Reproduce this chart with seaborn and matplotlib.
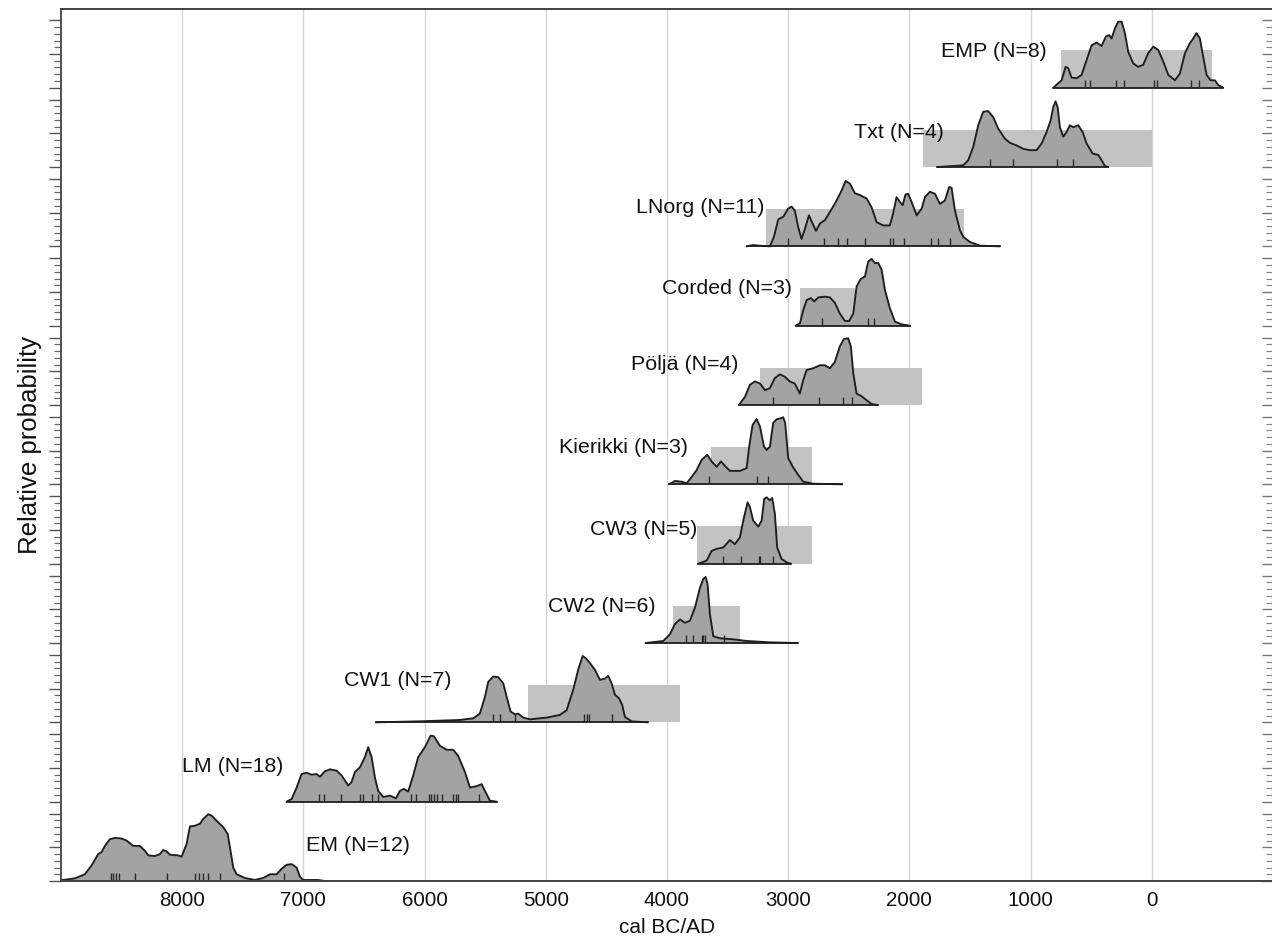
import numpy as np
import pandas as pd
import matplotlib
matplotlib.use("Agg")
import matplotlib.pyplot as plt
from matplotlib.patches import Rectangle
import seaborn as sns

# ---------------- data (years: positive = BC, negative = AD) ----------------
groups = ["EM (N=12)", "LM (N=18)", "CW1 (N=7)", "CW2 (N=6)", "CW3 (N=5)",
          "Kierikki (N=3)", "Pöljä (N=4)", "Corded (N=3)", "LNorg (N=11)",
          "Txt (N=4)", "EMP (N=8)"]

em_year = [9000, 8885, 8803, 8748, 8693, 8665, 8638, 8597, 8555, 8500, 8459, 8404,
           8349, 8308, 8280, 8225, 8184, 8157, 8129, 8101, 8033, 8005, 7964, 7936,
           7895, 7854, 7827, 7785, 7757, 7703, 7662, 7625, 7606, 7579, 7551, 7483,
           7400, 7332, 7276, 7221, 7180, 7139, 7097, 7056, 7029, 7002, 6878, 6823]
em_prob = [0.01, 0.04, 0.10, 0.23, 0.40, 0.43, 0.52, 0.62, 0.64, 0.63, 0.60, 0.52,
           0.52, 0.45, 0.38, 0.37, 0.40, 0.46, 0.44, 0.39, 0.38, 0.36, 0.55, 0.81,
           0.82, 0.85, 0.92, 0.99, 0.97, 0.87, 0.80, 0.70, 0.50, 0.20, 0.10, 0.045,
           0.015, 0.045, 0.10, 0.10, 0.18, 0.24, 0.25, 0.20, 0.065, 0.015, 0.015, 0.0]
em_dates = [8591, 8569, 8547, 8520, 8393, 8124, 7895, 7860, 7827, 7790, 7689, 7163]

lm_year = [7139, 7097, 7056, 7015, 6974, 6932, 6891, 6864, 6823, 6781, 6726, 6685,
           6630, 6603, 6575, 6534, 6493, 6465, 6437, 6410, 6383, 6341, 6286, 6237,
           6204, 6171, 6135, 6094, 6053, 5997, 5950, 5923, 5874, 5818, 5764, 5723,
           5667, 5626, 5571, 5530, 5502, 5461, 5406]
lm_prob = [0.0, 0.04, 0.21, 0.41, 0.43, 0.40, 0.41, 0.37, 0.45, 0.48, 0.46, 0.39,
           0.24, 0.29, 0.44, 0.51, 0.66, 0.81, 0.66, 0.36, 0.16, 0.07, 0.09, 0.05,
           0.16, 0.19, 0.15, 0.39, 0.66, 0.81, 0.98, 0.97, 0.83, 0.77, 0.77, 0.68,
           0.44, 0.21, 0.23, 0.26, 0.16, 0.015, 0.0]
lm_dates = [6870, 6828, 6693, 6534, 6512, 6437, 6388, 6113, 6074, 5964, 5950, 5923,
            5901, 5855, 5764, 5744, 5728, 5549]

cw1_year = [6402, 6039, 5709, 5599, 5544, 5502, 5475, 5434, 5393, 5351, 5323, 5290,
            5255, 5228, 5186, 5131, 4993, 4884, 4828, 4774, 4733, 4696, 4669, 4636,
            4595, 4553, 4512, 4485, 4457, 4430, 4397, 4370, 4347, 4292, 4160]
cw1_prob = [0.0, 0.015, 0.035, 0.06, 0.13, 0.38, 0.60, 0.68, 0.67, 0.58, 0.38, 0.16,
            0.12, 0.13, 0.07, 0.045, 0.07, 0.11, 0.18, 0.48, 0.78, 0.985, 0.95, 0.88,
            0.78, 0.63, 0.65, 0.69, 0.58, 0.41, 0.36, 0.26, 0.08, 0.015, 0.0]
cw1_dates = [5434, 5379, 5255, 4683, 4663, 4642, 4452]

cw2_year = [4177, 4031, 3976, 3935, 3893, 3852, 3811, 3770, 3728, 3701, 3681, 3665,
            3646, 3618, 3563, 3454, 3343, 3151, 2922]
cw2_prob = [0.0, 0.03, 0.13, 0.28, 0.35, 0.30, 0.33, 0.52, 0.82, 0.95, 0.98, 0.87,
            0.43, 0.10, 0.07, 0.055, 0.03, 0.01, 0.0]
cw2_dates = [3847, 3784, 3712, 3700, 3690, 3530]

cw3_year = [3742, 3673, 3632, 3591, 3536, 3481, 3440, 3398, 3371, 3335, 3316, 3289,
            3247, 3219, 3198, 3178, 3151, 3132, 3110, 3091, 3055, 3013, 2978]
cw3_prob = [0.0, 0.045, 0.19, 0.22, 0.24, 0.35, 0.29, 0.39, 0.64, 0.91, 0.84, 0.64,
            0.55, 0.64, 0.96, 0.985, 0.94, 0.975, 0.74, 0.24, 0.07, 0.02, 0.0]
cw3_dates = [3536, 3390, 3242, 3234, 3124]

kie_year = [3984, 3935, 3880, 3838, 3797, 3756, 3715, 3668, 3632, 3591, 3555, 3514,
            3481, 3398, 3343, 3322, 3294, 3261, 3233, 3200, 3178, 3151, 3124, 3096,
            3063, 3041, 3025, 3000, 2959, 2917, 2876, 2794, 2554]
kie_prob = [0.0, 0.05, 0.04, 0.015, 0.11, 0.21, 0.36, 0.44, 0.34, 0.26, 0.34, 0.26,
            0.20, 0.20, 0.24, 0.56, 0.88, 0.97, 0.86, 0.56, 0.51, 0.56, 0.91, 0.965,
            0.98, 0.995, 0.91, 0.39, 0.25, 0.14, 0.04, 0.01, 0.0]
kie_dates = [3654, 3258, 3165]

pol_year = [3407, 3357, 3316, 3275, 3233, 3192, 3151, 3110, 3069, 3028, 2987, 2946,
            2904, 2876, 2848, 2794, 2738, 2697, 2656, 2615, 2574, 2541, 2505, 2483,
            2463, 2436, 2394, 2353, 2312, 2262]
pol_prob = [0.0, 0.12, 0.30, 0.35, 0.32, 0.22, 0.25, 0.40, 0.455, 0.42, 0.35, 0.32,
            0.17, 0.37, 0.52, 0.545, 0.59, 0.59, 0.545, 0.64, 0.87, 0.98, 0.99, 0.87,
            0.47, 0.17, 0.13, 0.07, 0.015, 0.0]
pol_dates = [3129, 2744, 2551, 2472]

cor_year = [2939, 2903, 2876, 2848, 2813, 2785, 2752, 2697, 2656, 2615, 2574, 2532,
            2497, 2463, 2436, 2403, 2367, 2340, 2312, 2285, 2257, 2229, 2202, 2161,
            2119, 2064, 1996]
cor_prob = [0.0, 0.035, 0.23, 0.38, 0.41, 0.36, 0.42, 0.43, 0.42, 0.34, 0.18, 0.07,
            0.07, 0.18, 0.58, 0.69, 0.73, 0.95, 0.99, 0.93, 0.93, 0.83, 0.53, 0.26,
            0.06, 0.02, 0.0]
cor_dates = [2724, 2340, 2290]

lno_year = [3343, 3289, 3233, 3151, 3118, 3082, 3041, 3000, 2972, 2945, 2918, 2890,
            2862, 2829, 2799, 2771, 2738, 2697, 2656, 2607, 2559, 2526, 2491, 2450,
            2408, 2353, 2312, 2271, 2216, 2161, 2134, 2106, 2078, 2056, 2032, 2010,
            1982, 1940, 1899, 1872, 1831, 1789, 1748, 1707, 1672, 1652, 1624, 1583,
            1555, 1500, 1418, 1253]
lno_prob = [0.0, 0.02, 0.01, 0.0, 0.14, 0.40, 0.44, 0.56, 0.59, 0.53, 0.29, 0.11,
            0.26, 0.46, 0.34, 0.23, 0.34, 0.39, 0.51, 0.66, 0.83, 0.97, 0.93, 0.79,
            0.76, 0.71, 0.58, 0.36, 0.31, 0.31, 0.49, 0.73, 0.66, 0.61, 0.77, 0.78,
            0.66, 0.46, 0.56, 0.73, 0.81, 0.78, 0.63, 0.68, 0.88, 0.87, 0.53, 0.24,
            0.14, 0.065, 0.01, 0.0]
lno_dates = [3005, 2703, 2587, 2518, 2367, 2161, 2139, 2048, 1825, 1767, 1665]

txt_year = [1771, 1556, 1515, 1473, 1432, 1391, 1350, 1308, 1267, 1212, 1171, 1115,
            1061, 1006, 951, 909, 868, 835, 813, 794, 777, 758, 731, 703, 676, 648,
            607, 571, 538, 488, 442, 414, 387, 360]
txt_prob = [0.0, 0.025, 0.10, 0.30, 0.62, 0.82, 0.83, 0.74, 0.57, 0.42, 0.36, 0.32,
            0.27, 0.25, 0.25, 0.35, 0.52, 0.69, 0.89, 0.975, 0.89, 0.59, 0.45, 0.52,
            0.62, 0.59, 0.62, 0.52, 0.35, 0.20, 0.18, 0.10, 0.015, 0.0]
txt_dates = [1335, 1143, 786, 648]

emp_year = [813, 744, 711, 690, 662, 620, 579, 538, 497, 455, 414, 379, 351, 332,
            304, 277, 249, 222, 194, 153, 112, 71, 30, -12, -53, -94, -136, -191,
            -232, -273, -314, -342, -369, -397, -424, -452, -485, -521, -548, -589]
emp_prob = [0.0, 0.11, 0.31, 0.29, 0.15, 0.14, 0.19, 0.41, 0.63, 0.67, 0.62, 0.76,
            0.78, 0.73, 0.88, 0.98, 0.98, 0.81, 0.53, 0.36, 0.31, 0.34, 0.51, 0.61,
            0.56, 0.39, 0.19, 0.11, 0.21, 0.51, 0.66, 0.73, 0.81, 0.73, 0.46, 0.19,
            0.11, 0.11, 0.04, 0.0]
emp_dates = [552, 511, 296, 230, -18, -40, -320, -389]

# boundary ranges (light grey boxes); None = no box
box_start = [None, None, 5150, 3950, 3750, 3640, 3230, 2900, 3180, 1890, 750]
box_end = [None, None, 3890, 3400, 2800, 2800, 1900, 2450, 1550, 0, -500]

xtick_values = [8000, 7000, 6000, 5000, 4000, 3000, 2000, 1000, 0]

curves_year = [em_year, lm_year, cw1_year, cw2_year, cw3_year, kie_year, pol_year,
               cor_year, lno_year, txt_year, emp_year]
curves_prob = [em_prob, lm_prob, cw1_prob, cw2_prob, cw3_prob, kie_prob, pol_prob,
               cor_prob, lno_prob, txt_prob, emp_prob]
curves_dates = [em_dates, lm_dates, cw1_dates, cw2_dates, cw3_dates, kie_dates,
                pol_dates, cor_dates, lno_dates, txt_dates, emp_dates]

# ---------------- layout / style ----------------
ROW = 1.177          # vertical spacing between rows (in probability units)
BOX_H = 0.555
label_x = [6121, 7167, 5777, 4091, 3751, 3825, 3412, 2972, 3192, 1715, 865]
label_dy = [0.53, 0.52, 0.62, 0.54, 0.50, 0.54, 0.60, 0.55, 0.57, 0.51, 0.54]

sns.set_style("white")
plt.rcParams['font.family'] = ['Liberation Sans', 'DejaVu Sans']

fig = plt.figure(figsize=(12.72, 9.38), dpi=100)
W, H = 1272, 938
ax = fig.add_axes([61 / W, (H - 881) / H, 1212 / W, 872 / H])

ax.set_xlim(9000, -1000)
ax.set_ylim(0, 872 / 67.4)

FILL = '#a3a3a3'
BOXC = '#c3c3c3'
LINE = '#1e1e1e'

for xv in xtick_values:
    ax.axvline(xv, color='#d6d6d6', lw=1.0, zorder=0)

rows = []
for i, g in enumerate(groups):
    for yr, p in zip(curves_year[i], curves_prob[i]):
        rows.append({'group': g, 'row': i, 'year': yr, 'prob': p,
                     'y': i * ROW + p})
df = pd.DataFrame(rows)

for i, g in enumerate(groups):
    base = i * ROW
    sub = df[df['group'] == g]
    if box_start[i] is not None:
        ax.add_patch(Rectangle((box_start[i], base), box_end[i] - box_start[i], BOX_H,
                               facecolor=BOXC, edgecolor='none', zorder=1))
    ax.fill_between(sub['year'], base, sub['y'], facecolor=FILL, edgecolor='none',
                    zorder=2)
    sns.lineplot(data=sub, x='year', y='y', ax=ax, color=LINE, lw=1.35,
                 estimator=None, sort=False, zorder=3, solid_joinstyle='round',
                 solid_capstyle='round')
    ax.plot([sub['year'].min(), sub['year'].max()], [base, base], color=LINE,
            lw=1.3, zorder=3)
    ax.vlines(curves_dates[i], base, base + 0.12, color='#2a2a2a', lw=1.0, zorder=4)
    ax.text(label_x[i], base + label_dy[i], g, ha='right', va='center',
            fontsize=15.4, color='#111111', zorder=5)

# x ticks
ax.set_xticks(xtick_values)
ax.set_xticklabels([str(v) for v in xtick_values])
ax.set_xticks(np.arange(9000, -1001, -100), minor=True)
ax.tick_params(axis='x', which='major', direction='out', length=6, width=1.0,
               color='#444444', labelsize=14.8, pad=1, labelcolor='#111111')
ax.tick_params(axis='x', which='minor', direction='out', length=3.5, width=0.9,
               color='#555555')
ax.set_xlabel('cal BC/AD', fontsize=15, color='#111111', labelpad=6)

# y ticks: per-row scales
majors, minors = [], []
for i in range(len(groups)):
    b = i * ROW
    majors += [b, b + 0.5, b + 1.0]
    minors += [b + k / 10 for k in (1, 2, 3, 4, 6, 7, 8, 9)]
ax.set_yticks(majors)
ax.set_yticks(minors, minor=True)
ax.set_yticklabels([])
ax.tick_params(axis='y', which='major', direction='out', length=8.5, width=1.0,
               color='#555555', left=True)
ax.tick_params(axis='y', which='minor', direction='out', length=5, width=0.9,
               color='#666666', left=True)
ax.set_ylabel('Relative probability', fontsize=18.5, color='#111111', labelpad=2)

ax2 = ax.twinx()
ax2.set_ylim(ax.get_ylim())
ax2.set_yticks(majors)
ax2.set_yticks(minors, minor=True)
ax2.set_yticklabels([])
ax2.tick_params(axis='y', which='major', direction='in', length=8, width=1.0,
                color='#777777', right=True)
ax2.tick_params(axis='y', which='minor', direction='in', length=5, width=0.9,
                color='#888888', right=True)
for a in (ax, ax2):
    a.spines['right'].set_visible(False)
    for s in ('left', 'top', 'bottom'):
        a.spines[s].set_color('#444444')
        a.spines[s].set_linewidth(1.3)
ax2.spines['left'].set_visible(False)
ax.grid(False)
ax2.grid(False)

fig.savefig('out.png', dpi=100)
